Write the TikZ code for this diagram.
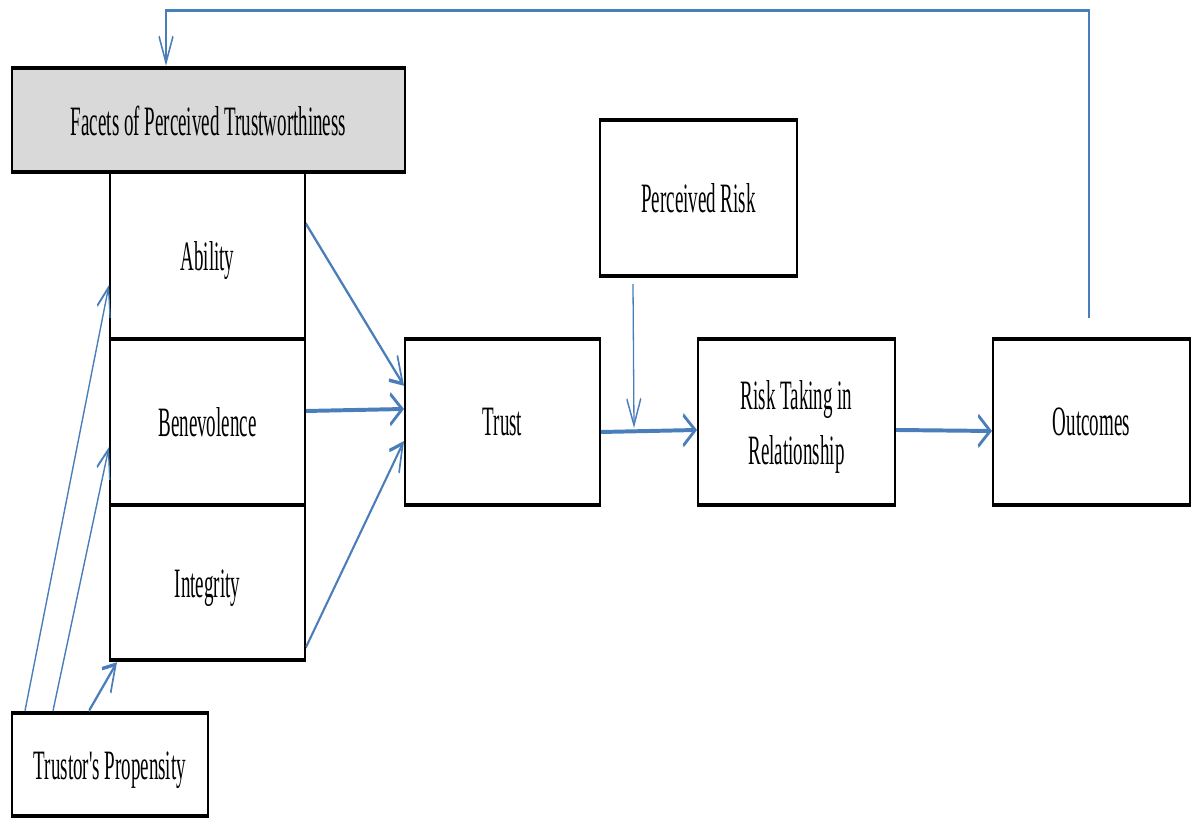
\documentclass[tikz,border=0pt]{standalone}
\usepackage{fontspec}
\setmainfont{Liberation Serif}
\usetikzlibrary{arrows.meta,calc}
\definecolor{arrblue}{HTML}{4A7EBB}
\definecolor{facetgray}{HTML}{D9D9D9}
\newcommand{\lowertext}[2]{\raisebox{-#1}[\height][\depth]{#2}}
\tikzset{
  boxnode/.style 2 args={draw=black, line width=2pt, inner sep=0pt,
    minimum width=#1pt, minimum height={#2/2.2*1pt}, align=center,
    font=\fontsize{19}{25}\selectfont},
  conn/.style={draw=arrblue, line width=1.6pt, -{Straight Barb[length=12pt,width=14pt]}},
  thinconn/.style={conn, line width=1.3pt}
}
\begin{document}
\begin{tikzpicture}
\useasboundingbox (0,0) rectangle (1196pt,818pt);
\begin{scope}[x=1pt, y=0.454545pt, transform canvas={yscale=2.2}]
  % nodes
  \node[boxnode={195}{167}] (ability) at (207.5,562.5) {\lowertext{2.2pt}{Ability}};
  \node[boxnode={195}{166}] (benev) at (207.5,396) {Benevolence};
  \node[boxnode={195}{155}] (integ) at (207.5,235.5) {\lowertext{2.6pt}{Integrity}};
  \node[boxnode={393}{104}, fill=facetgray] (facets) at (208.5,698) {\lowertext{0.4pt}{Facets of Perceived Trustworthiness}};
  \node[boxnode={196}{103}] (trustor) at (110,53.5) {\lowertext{2.6pt}{Trustor\textquotesingle s Propensity}};
  \node[boxnode={195}{166}] (trust) at (502.5,396) {Trust};
  \node[boxnode={197}{156}] (prisk) at (698.5,620) {Perceived Risk};
  \node[boxnode={197}{166}] (risk) at (796.5,396) {\lowertext{1.8pt}{\begin{tabular}{@{}c@{}}Risk Taking in\\Relationship\end{tabular}}};
  \node[boxnode={197}{166}] (outc) at (1091.5,396) {Outcomes};
  \coordinate (prtip) at (634,390);
  % connectors
  \draw[conn] ($(ability.north east)+(0,-54)$) -- ($(trust.north west)+(0,-49)$);
  \draw[conn, line width=1.8pt] ($(benev.east)+(0,11)$) -- ($(trust.west)+(0,13)$);
  \draw[conn] ($(integ.south east)+(0,15)$) -- ($(trust.west)+(0,-19)$);
  \draw[thinconn] ($(trustor.north west)+(14,0)$) -- ($(ability.west)+(0,-29.5)$);
  \draw[thinconn] ($(trustor.north west)+(42,0)$) -- ($(benev.west)+(0,-25)$);
  \draw[conn] ($(trustor.north west)+(78,0)$) -- ($(integ.south west)+(8,0)$);
  \draw[conn, line width=1.8pt] ($(trust.east)+(0,-10)$) -- ($(risk.west)+(0,-8)$);
  \draw[thinconn] ($(prisk.south west)+(34,-6)$) -- (prtip);
  \draw[conn, line width=1.8pt] ($(risk.east)+(0,-8)$) -- ($(outc.west)+(0,-9)$);
  \draw[thinconn, line width=1.4pt] ($(outc.north)+(-2.5,19)$) |- ($(facets.north)+(-42.5,55)$) -- ($(facets.north)+(-42.5,0)$);
\end{scope}
\end{tikzpicture}
\end{document}
